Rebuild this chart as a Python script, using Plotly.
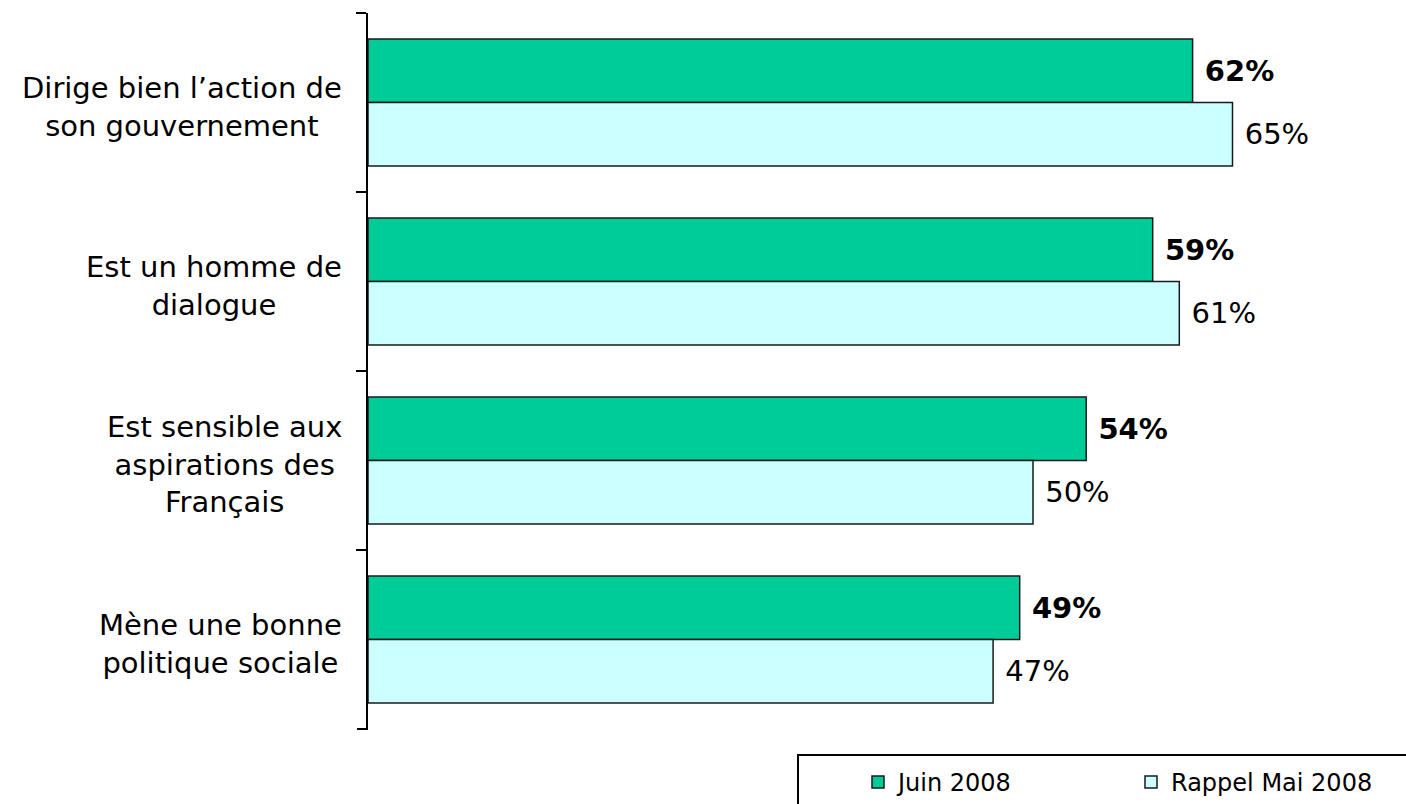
import plotly.graph_objects as go

categories = ["Dirige bien l’action de<br>son gouvernement",
              "Est un homme de<br>dialogue",
              "Est sensible aux<br>aspirations des<br>Français",
              "Mène une bonne<br>politique sociale"]
juin_2008 = [62, 59, 54, 49]
mai_2008 = [65, 61, 50, 47]
series_names = ["Juin 2008", "Rappel Mai 2008"]

FONT = "DejaVu Sans, Verdana, sans-serif"
NB = "\u00a0"

fig = go.Figure()
fig.add_trace(go.Bar(
    y=categories, x=juin_2008, orientation="h", name=series_names[0],
    marker=dict(color="#00CC99", line=dict(color="#1a1a1a", width=1.5)),
    text=[f"{NB}<b>{v}%</b>" for v in juin_2008], textposition="outside",
    textfont=dict(family=FONT, size=29, color="black"), cliponaxis=False,
))
fig.add_trace(go.Bar(
    y=categories, x=mai_2008, orientation="h", name=series_names[1],
    marker=dict(color="#CCFFFF", line=dict(color="#1a1a1a", width=1.5)),
    text=[f"{NB}{v}%" for v in mai_2008], textposition="outside",
    textfont=dict(family=FONT, size=29, color="black"), cliponaxis=False,
))

for c in categories:
    fig.add_annotation(x=0, xref="paper", y=c, yref="y", text=c, showarrow=False,
                       xanchor="right", xshift=-24, yshift=-4, align="center",
                       font=dict(family=FONT, size=29, color="black"))

# closing tick at the bottom end of the category axis
fig.add_shape(type="line", xref="paper", yref="paper", xsizemode="pixel", xanchor=0,
              x0=-11, x1=0, y0=0, y1=0, line=dict(color="black", width=2))

# legend box
fig.add_shape(type="rect", xref="paper", yref="paper",
              x0=(798 - 368) / 1038, x1=1.05, y0=(729 - 755) / 716, y1=-0.2,
              line=dict(color="black", width=2), fillcolor="white", layer="below")

fig.update_layout(
    width=1406, height=804,
    margin=dict(l=368, r=0, t=13, b=75, autoexpand=False),
    paper_bgcolor="white", plot_bgcolor="white",
    barmode="group", bargap=0.29, bargroupgap=0,
    font=dict(family=FONT, size=22, color="black"),
    showlegend=True,
    legend=dict(orientation="h", x=(858 - 368) / 1038, y=(729 - 760) / 716,
                xanchor="left", yanchor="top", entrywidth=228, traceorder="normal",
                bgcolor="rgba(0,0,0,0)", borderwidth=0,
                font=dict(family=FONT, size=24, color="black")),
    xaxis=dict(range=[0, 1038 / 13.3], visible=False),
    yaxis=dict(range=[3.5, -0.5], showticklabels=False, showline=True,
               linecolor="black", linewidth=2, ticks="outside", ticklen=10,
               tickwidth=2, tickcolor="black", tickson="boundaries",
               showgrid=False, zeroline=False),
)

fig.write_html("out.html", config={"displayModeBar": False},
               post_script="document.body.style.margin='0px';document.body.style.overflow='hidden';")
